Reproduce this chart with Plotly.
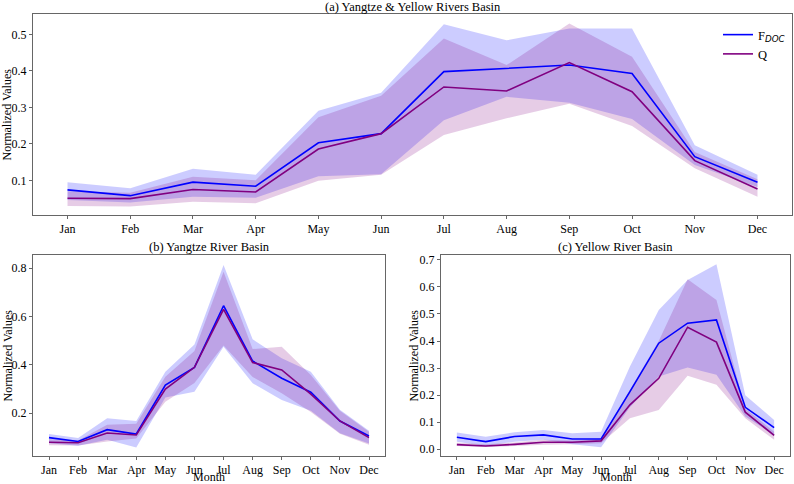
import plotly.graph_objects as go

months = ["Jan", "Feb", "Mar", "Apr", "May", "Jun", "Jul", "Aug", "Sep", "Oct", "Nov", "Dec"]

# Panel (a) Yangtze & Yellow Rivers Basin
a_fdoc = [0.074, 0.058, 0.095, 0.084, 0.203, 0.228, 0.398, 0.408, 0.416, 0.393, 0.165, 0.095]
a_fdoc_hi = [0.095, 0.078, 0.132, 0.115, 0.291, 0.340, 0.528, 0.484, 0.516, 0.516, 0.196, 0.115]
a_fdoc_lo = [0.046, 0.039, 0.055, 0.052, 0.111, 0.117, 0.265, 0.329, 0.313, 0.268, 0.142, 0.082]
a_q = [0.051, 0.050, 0.075, 0.068, 0.186, 0.228, 0.356, 0.345, 0.423, 0.343, 0.154, 0.076]
a_q_hi = [0.070, 0.066, 0.110, 0.100, 0.273, 0.332, 0.489, 0.416, 0.530, 0.439, 0.178, 0.103]
a_q_lo = [0.030, 0.028, 0.041, 0.037, 0.099, 0.115, 0.224, 0.270, 0.310, 0.249, 0.133, 0.055]

# Panel (b) Yangtze River Basin
b_fdoc = [0.099, 0.083, 0.132, 0.114, 0.317, 0.390, 0.645, 0.416, 0.345, 0.287, 0.168, 0.106]
b_fdoc_hi = [0.114, 0.097, 0.179, 0.168, 0.372, 0.485, 0.814, 0.506, 0.428, 0.372, 0.214, 0.128]
b_fdoc_lo = [0.076, 0.065, 0.090, 0.058, 0.265, 0.289, 0.475, 0.324, 0.255, 0.210, 0.117, 0.075]
b_q = [0.080, 0.078, 0.118, 0.110, 0.300, 0.390, 0.630, 0.410, 0.379, 0.279, 0.168, 0.099]
b_q_hi = [0.092, 0.087, 0.152, 0.156, 0.351, 0.458, 0.786, 0.466, 0.475, 0.358, 0.210, 0.123]
b_q_lo = [0.068, 0.066, 0.083, 0.095, 0.248, 0.325, 0.480, 0.350, 0.283, 0.205, 0.115, 0.070]

# Panel (c) Yellow River Basin
c_fdoc = [0.044, 0.028, 0.047, 0.053, 0.038, 0.038, 0.213, 0.392, 0.466, 0.478, 0.155, 0.080]
c_fdoc_hi = [0.062, 0.046, 0.063, 0.071, 0.059, 0.065, 0.306, 0.515, 0.626, 0.684, 0.200, 0.108]
c_fdoc_lo = [0.028, 0.012, 0.028, 0.035, 0.018, 0.007, 0.155, 0.269, 0.302, 0.275, 0.121, 0.053]
c_q = [0.017, 0.012, 0.018, 0.026, 0.026, 0.031, 0.164, 0.262, 0.451, 0.396, 0.137, 0.051]
c_q_hi = [0.024, 0.018, 0.025, 0.035, 0.032, 0.038, 0.220, 0.400, 0.628, 0.552, 0.150, 0.065]
c_q_lo = [0.012, 0.008, 0.012, 0.017, 0.018, 0.022, 0.115, 0.145, 0.272, 0.238, 0.115, 0.035]

titles = ["(a) Yangtze & Yellow Rivers Basin", "(b) Yangtze River Basin", "(c) Yellow River Basin"]

BLUE = "#0000ff"
PURPLE = "#800080"
BLUE_F = "rgba(0,0,255,0.2)"
PURPLE_F = "rgba(128,0,128,0.2)"
FONT = "Liberation Serif"
FS = 12.5
TFS = 12

xs = list(range(12))
fig = go.Figure()

panels = [
    ("x", "y", a_fdoc, a_fdoc_hi, a_fdoc_lo, a_q, a_q_hi, a_q_lo, True),
    ("x2", "y2", b_fdoc, b_fdoc_hi, b_fdoc_lo, b_q, b_q_hi, b_q_lo, False),
    ("x3", "y3", c_fdoc, c_fdoc_hi, c_fdoc_lo, c_q, c_q_hi, c_q_lo, False),
]

for xa, ya, f, fh, fl, q, qh, ql, show in panels:
    for hi, lo, col in [(fh, fl, BLUE_F), (qh, ql, PURPLE_F)]:
        fig.add_trace(go.Scatter(x=xs, y=hi, xaxis=xa, yaxis=ya, mode="lines",
                                 line=dict(width=0), showlegend=False, hoverinfo="skip"))
        fig.add_trace(go.Scatter(x=xs, y=lo, xaxis=xa, yaxis=ya, mode="lines",
                                 line=dict(width=0), fill="tonexty", fillcolor=col,
                                 showlegend=False, hoverinfo="skip"))
    fig.add_trace(go.Scatter(x=xs, y=f, xaxis=xa, yaxis=ya, mode="lines",
                             line=dict(color=BLUE, width=1.6),
                             name="F<sub><i><span style='font-family:DejaVu Sans'>DOC</span></i></sub>",
                             showlegend=show))
    fig.add_trace(go.Scatter(x=xs, y=q, xaxis=xa, yaxis=ya, mode="lines",
                             line=dict(color=PURPLE, width=1.6), name="Q", showlegend=show))

W, H = 794, 484
def dx(a, b):
    return [a / W, b / W]
def dy(top, bottom):
    return [1 - bottom / H, 1 - top / H]

axis_common = dict(showline=True, linecolor="#666666", linewidth=1, mirror=True,
                   ticks="outside", ticklen=3, tickcolor="#666666", showgrid=False,
                   zeroline=False, automargin=False,
                   tickfont=dict(family=FONT, size=TFS, color="black"))

xcommon = dict(axis_common, tickmode="array", tickvals=xs, ticktext=months,
               range=[-0.55, 11.55], tickangle=0)

fig.update_layout(
    width=W, height=H,
    margin=dict(l=0, r=0, t=0, b=0, autoexpand=False),
    paper_bgcolor="white", plot_bgcolor="white",
    font=dict(family=FONT, size=FS, color="black"),
    xaxis=dict(xcommon, domain=dx(33, 792), anchor="y"),
    yaxis=dict(axis_common, domain=dy(14, 215), anchor="x", range=[0.005, 0.556],
               tickvals=[0.1, 0.2, 0.3, 0.4, 0.5], ticktext=["0.1", "0.2", "0.3", "0.4", "0.5"]),
    xaxis2=dict(xcommon, domain=dx(33, 385), anchor="y2"),
    yaxis2=dict(axis_common, domain=dy(255, 456), anchor="x2", range=[0.023, 0.855],
                tickvals=[0.2, 0.4, 0.6, 0.8], ticktext=["0.2", "0.4", "0.6", "0.8"]),
    xaxis3=dict(xcommon, domain=dx(441, 790), anchor="y3"),
    yaxis3=dict(axis_common, domain=dy(255, 456), anchor="x3", range=[-0.025, 0.718],
                tickvals=[0.0, 0.1, 0.2, 0.3, 0.4, 0.5, 0.6, 0.7],
                ticktext=["0.0", "0.1", "0.2", "0.3", "0.4", "0.5", "0.6", "0.7"]),
    legend=dict(x=718 / W, y=1 - 20 / H, xanchor="left", yanchor="top", bgcolor="rgba(255,255,255,0)",
                borderwidth=0, font=dict(family=FONT, size=FS), itemwidth=30, tracegroupgap=0,
                traceorder="normal"),
    showlegend=True,
)

# panel titles
title_pos = [((33 + 792) / 2, 7), ((33 + 385) / 2, 247), ((441 + 790) / 2, 247)]
for t, (px, py) in zip(titles, title_pos):
    fig.add_annotation(text=t, x=px / W, y=1 - py / H, xref="paper", yref="paper",
                       showarrow=False, xanchor="center", yanchor="middle",
                       font=dict(family=FONT, size=FS, color="black"))

# y-axis titles
for px, py in [(7, (14 + 215) / 2), (7, (255 + 456) / 2), (413, (255 + 456) / 2)]:
    fig.add_annotation(text="Normalized Values", x=px / W, y=1 - py / H, xref="paper", yref="paper",
                       showarrow=False, xanchor="center", yanchor="middle", textangle=-90,
                       font=dict(family=FONT, size=12, color="black"))

# x-axis titles
for px in [(33 + 385) / 2, (441 + 790) / 2]:
    fig.add_annotation(text="Month", x=px / W, y=1 - 477 / H, xref="paper", yref="paper",
                       showarrow=False, xanchor="center", yanchor="middle",
                       font=dict(family=FONT, size=12, color="black"))

fig.write_html("out.html")
